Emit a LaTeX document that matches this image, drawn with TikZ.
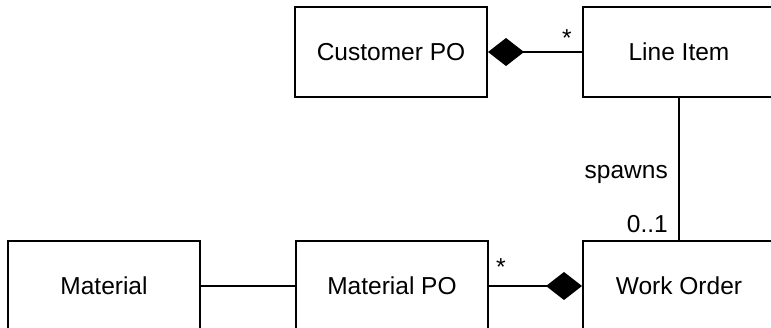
\documentclass[tikz,border=0pt]{standalone}
\usepackage{fontspec}
\setmainfont{Liberation Sans}
\usetikzlibrary{arrows.meta}
\begin{document}
\begin{tikzpicture}[x=1pt,y=-1pt,
  classbox/.style={draw=black,line width=2pt,fill=white,minimum width=192pt,minimum height=90pt,inner sep=0pt,font=\fontsize{24.5}{29}\selectfont},
  link/.style={line width=2pt},
  comp/.style={link,-{Diamond[length=36pt,width=28pt,fill=black]}},
  lbl/.style={inner sep=0pt,font=\fontsize{24.5}{29}\selectfont}]
\useasboundingbox (0,0) rectangle (771,328);
\clip (0,0) rectangle (771,328);
% classes
\node[classbox] (cpo) at (391,52) {Customer PO};
\node[classbox] (li)  at (679,52) {Line Item};
\node[classbox] (mat) at (104,286) {Material};
\node[classbox] (mpo) at (392,286) {Material PO};
\node[classbox] (wo)  at (679,286) {Work Order};
% associations
\draw[comp] (li.west) -- (cpo.east);
\draw[comp] (mpo.east) -- (wo.west);
\draw[link] (mat.east) -- (mpo.west);
\draw[link] (li.south) -- (wo.north);
% multiplicities and role labels
\node[lbl,anchor=base] (m1) at (567,47) {*};
\node[lbl,anchor=base] (m2) at (501,276) {*};
\node[lbl,anchor=base east] (sp) at (668,179) {spawns};
\node[lbl,anchor=base east] (m3) at (668,233) {0..1};
\end{tikzpicture}
\end{document}
